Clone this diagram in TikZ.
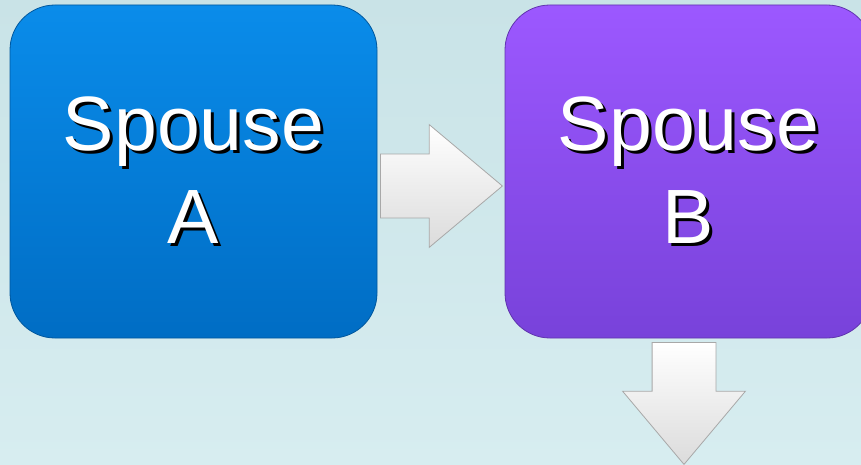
\documentclass[tikz,border=0pt]{standalone}
\usepackage{fontspec}
\setmainfont{Liberation Sans}
\usetikzlibrary{shapes.arrows}
\definecolor{bgtop}{HTML}{C9E3E7}
\definecolor{bgbot}{HTML}{D7EDF0}
\definecolor{bluetop}{HTML}{0A8CEA}
\definecolor{bluebot}{HTML}{006DC4}
\definecolor{purptop}{HTML}{9C58FF}
\definecolor{purpbot}{HTML}{7842DA}
\definecolor{arrowedge}{HTML}{A8A8A8}
\newcommand{\shadowed}[1]{\rlap{\hspace{3pt}\raisebox{-3pt}{\textcolor{black}{#1}}}#1}
\tikzset{
  box/.style={rectangle, rounded corners=45pt, minimum width=367pt, minimum height=333pt, inner sep=0pt, line width=0.8pt},
  label/.style={align=center, inner sep=0pt, text=white, font=\fontsize{77}{93}\selectfont},
  blockarrow/.style={single arrow, draw=arrowedge, line width=0.8pt, top color=white, bottom color=black!14,
    minimum width=122pt, minimum height=122pt, single arrow head extend=29.5pt, single arrow tip angle=80,
    inner xsep=0pt, inner ysep=31.5pt, anchor=tail}
}
\begin{document}
\begin{tikzpicture}[x=1pt, y=-1pt]
      % Background
      \shade[top color=bgtop, bottom color=bgbot] (0,0) rectangle (861,465);
      \useasboundingbox (0,0) rectangle (861,465);

      % Nodes
      \node[box, top color=bluetop, bottom color=bluebot, draw=bluebot!80!black] at (193.5, 171.5) (a) {};
      \node[box, top color=purptop, bottom color=purpbot, draw=purpbot!80!black] at (688.5, 171.5) (b) {};
      \node[label] at (a.center) (atext) {\shadowed{Spouse}\\\shadowed{A}};
      \node[label] at (b.center) (btext) {\shadowed{Spouse}\\\shadowed{B}};

      % Arrows
      \node[blockarrow] at (380, 186) (ab) {};
      \node[blockarrow, rotate=-90] at (684, 342) (bd) {};
    \end{tikzpicture}
\end{document}
